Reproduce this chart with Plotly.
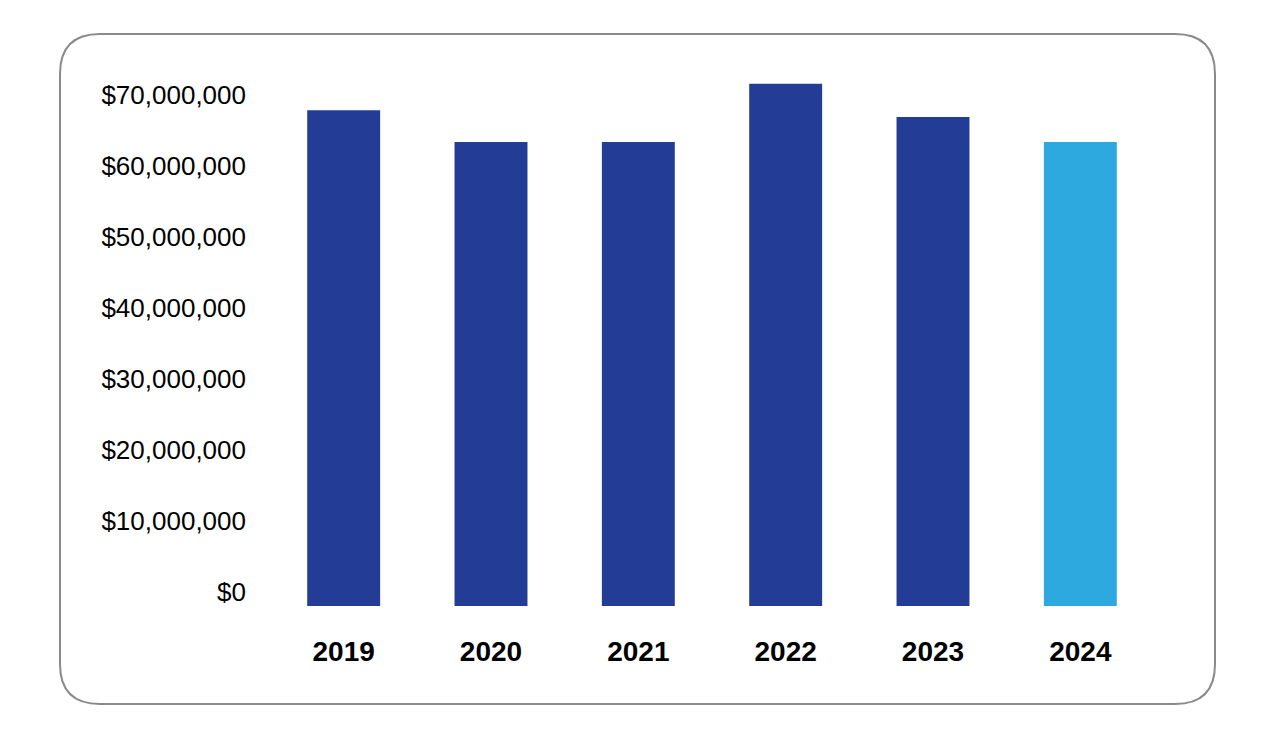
import plotly.graph_objects as go

years = ["2019", "2020", "2021", "2022", "2023", "2024"]
values = [69_850_000, 65_400_000, 65_400_000, 73_600_000, 68_900_000, 65_400_000]
bar_colors = ["#233C96", "#233C96", "#233C96", "#233C96", "#233C96", "#2EA9DF"]
tick_vals = [0, 10_000_000, 20_000_000, 30_000_000, 40_000_000, 50_000_000, 60_000_000, 70_000_000]
tick_text = ["$0", "$10,000,000", "$20,000,000", "$30,000,000", "$40,000,000",
             "$50,000,000", "$60,000,000", "$70,000,000"]

OFF = 8  # page body margin
W, H = 1275 - OFF, 737 - OFF
L, T = 270 - OFF, 67 - OFF
pw, ph = 884, 539
R, B = W - L - pw, H - T - ph
px_per_10m = 70.96
ymax = ph / px_per_10m * 1e7

fig = go.Figure(go.Bar(
    x=years, y=values, marker=dict(color=bar_colors, line=dict(width=0)),
    width=0.495,
))

def px2x(p):
    return (p - OFF - L) / pw

def py2y(p):
    return 1 - (p - OFF - T) / ph

x0, x1, y0, y1, r = 60, 1215, 34, 704, 40
path = (
    f"M {px2x(x0 + r)},{py2y(y0)} L {px2x(x1 - r)},{py2y(y0)} "
    f"Q {px2x(x1)},{py2y(y0)} {px2x(x1)},{py2y(y0 + r)} "
    f"L {px2x(x1)},{py2y(y1 - r)} "
    f"Q {px2x(x1)},{py2y(y1)} {px2x(x1 - r)},{py2y(y1)} "
    f"L {px2x(x0 + r)},{py2y(y1)} "
    f"Q {px2x(x0)},{py2y(y1)} {px2x(x0)},{py2y(y1 - r)} "
    f"L {px2x(x0)},{py2y(y0 + r)} "
    f"Q {px2x(x0)},{py2y(y0)} {px2x(x0 + r)},{py2y(y0)} Z"
)

FONT = "Liberation Sans, Arial, Helvetica, sans-serif"

fig.update_layout(
    width=W, height=H,
    margin=dict(l=L, r=R, t=T, b=B, autoexpand=False),
    paper_bgcolor="white", plot_bgcolor="white",
    showlegend=False,
    font=dict(family=FONT, color="#000000"),
    shapes=[dict(type="path", path=path, xref="paper", yref="paper",
                 line=dict(color="#8A8A8A", width=2), fillcolor="rgba(0,0,0,0)",
                 layer="below")],
    xaxis=dict(
        type="category", showgrid=False, zeroline=False, showline=False, ticks="",
        tickfont=dict(size=28, family=FONT, weight="bold"),
        ticklabelstandoff=26,
    ),
    yaxis=dict(
        range=[0, ymax], showgrid=False, zeroline=False, showline=False, ticks="",
        tickvals=tick_vals, ticktext=tick_text,
        tickfont=dict(size=26),
        ticklabelstandoff=23, ticklabelshift=-14,
    ),
)

fig.write_html("out.html")
